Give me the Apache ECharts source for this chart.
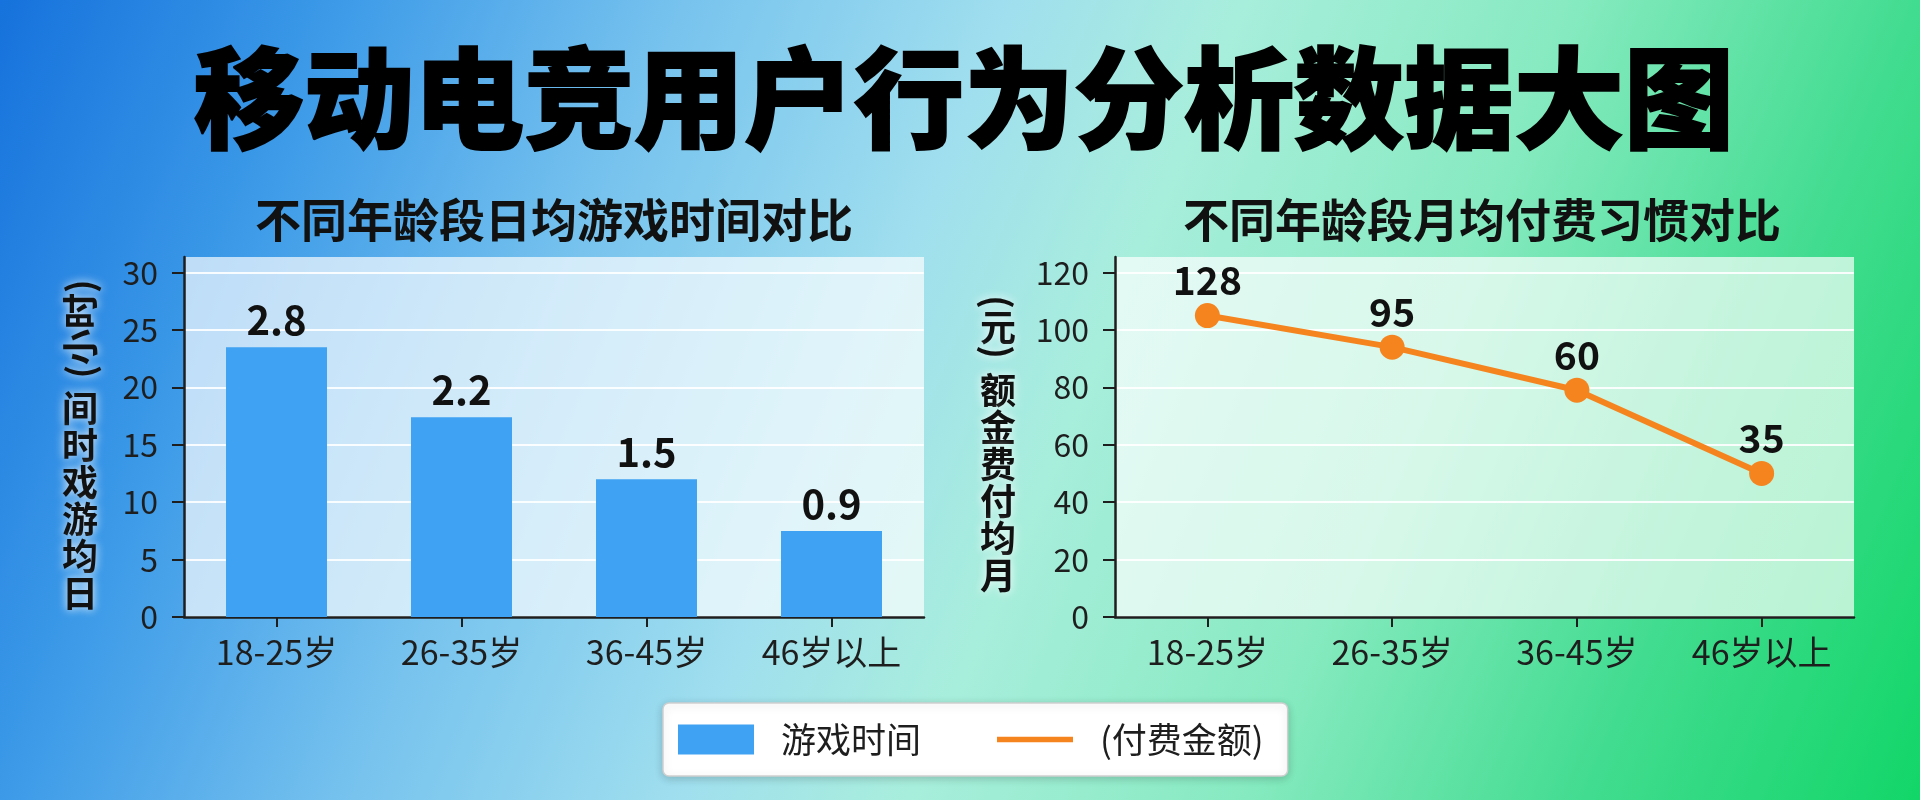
<!DOCTYPE html>
<html>
<head>
<meta charset="utf-8">
<script src="https://cdn.jsdelivr.net/npm/echarts@6/dist/echarts.min.js"></script>
<style>
html,body{margin:0;padding:0;width:1920px;height:800px;overflow:hidden;}
#main{width:1920px;height:800px;}
</style>
</head>
<body>
<div id="main"></div>
<script>
const categories = ['18-25岁', '26-35岁', '36-45岁', '46岁以上'];
const playTime = [23.5, 17.4, 12.0, 7.5];
const playTimeLabels = ['2.8', '2.2', '1.5', '0.9'];
const payAmount = [105, 94, 79, 50];
const payLabels = ['128', '95', '60', '35'];
const timeTicks = [0, 5, 10, 15, 20, 25, 30];
const payTicks = [0, 20, 40, 60, 80, 100, 120];

const FONT = '"Noto Sans CJK SC", "Noto Sans", sans-serif';
const DARK = '#1e1e1e';
const BLUE = '#3fa2f2';
const ORANGE = '#f5841f';

const chart = echarts.init(document.getElementById('main'), null, {renderer: 'canvas'});

function xAxisCfg(gridIndex) {
  return {
    type: 'category', gridIndex: gridIndex, data: categories, boundaryGap: true,
    axisLine: {lineStyle: {color: DARK, width: 2.5}},
    axisTick: {show: true, alignWithLabel: true, length: 10, lineStyle: {color: DARK, width: 2}},
    axisLabel: {fontSize: 34, color: DARK, margin: 18, fontFamily: FONT},
    splitLine: {show: false}
  };
}
function yAxisCfg(gridIndex, max, interval, ticks) {
  return {
    type: 'value', gridIndex: gridIndex, min: 0, max: max, interval: interval,
    axisLine: {show: true, lineStyle: {color: DARK, width: 2.5}},
    axisTick: {show: true, length: 12, customValues: ticks, lineStyle: {color: DARK, width: 2}},
    axisLabel: {fontSize: 32, color: DARK, margin: 26, fontFamily: FONT, customValues: ticks},
    splitLine: {show: true, lineStyle: {color: 'rgba(255,255,255,0.9)', width: 2}}
  };
}

const halo = {textShadowColor: '#ffffff', textShadowBlur: 10};

const option = {
  backgroundColor: new echarts.graphic.LinearGradient(0, 0, 1, 1, [
    {offset: 0, color: '#1672dc'},
    {offset: 0.15, color: '#3c9ae8'},
    {offset: 0.3, color: '#76c2ee'},
    {offset: 0.45, color: '#a0dfee'},
    {offset: 0.55, color: '#a8eedc'},
    {offset: 0.7, color: '#86eac0'},
    {offset: 0.85, color: '#42dc90'},
    {offset: 1, color: '#12d668'}
  ]),
  textStyle: {fontFamily: FONT},
  animation: false,
  grid: [
    {left: 184, right: 996, top: 257, bottom: 183, show: true, backgroundColor: 'rgba(255,255,255,0.68)', borderWidth: 0},
    {left: 1115, right: 66, top: 257, bottom: 183, show: true, backgroundColor: 'rgba(255,255,255,0.68)', borderWidth: 0}
  ],
  xAxis: [xAxisCfg(0), xAxisCfg(1)],
  yAxis: [
    yAxisCfg(0, 31.35, 5, timeTicks),
    yAxisCfg(1, 125.4, 20, payTicks)
  ],
  legend: {
    left: 663, top: 703,
    padding: [19, 24, 19, 15],
    itemWidth: 76, itemHeight: 30, itemGap: 76,
    backgroundColor: '#ffffff',
    borderColor: '#cfcfcf', borderWidth: 1.5, borderRadius: 6,
    shadowColor: 'rgba(0,0,0,0.18)', shadowBlur: 8, shadowOffsetY: 2,
    textStyle: {fontSize: 35, color: DARK, fontFamily: FONT, padding: [0, 0, 0, 22]},
    data: [
      {name: '游戏时间', icon: 'rect'},
      {name: '(付费金额)', icon: 'path://M0 0H80V6H0Z'}
    ]
  },
  series: [
    {
      name: '游戏时间', type: 'bar', xAxisIndex: 0, yAxisIndex: 0,
      data: playTime, barWidth: 101,
      itemStyle: {color: BLUE},
      label: {
        show: true, position: 'top', distance: 7,
        fontSize: 40, fontWeight: 'bold', color: '#111', fontFamily: FONT,
        formatter: p => playTimeLabels[p.dataIndex]
      }
    },
    {
      name: '(付费金额)', type: 'line', xAxisIndex: 1, yAxisIndex: 1,
      data: payAmount, symbol: 'circle', symbolSize: 25,
      lineStyle: {color: ORANGE, width: 6},
      itemStyle: {color: ORANGE},
      label: {
        show: true, position: 'top', distance: 3,
        fontSize: 39, fontWeight: 'bold', color: '#111', fontFamily: FONT,
        formatter: p => payLabels[p.dataIndex]
      }
    }
  ],
  graphic: [
    {type: 'text', x: 964, y: 98, style: {text: '移动电竞用户行为分析数据大图', fill: '#000', font: '900 110px ' + FONT, align: 'center', verticalAlign: 'middle', stroke: '#000', lineWidth: 2}},
    {type: 'text', x: 554, y: 220, style: {text: '不同年龄段日均游戏时间对比', fill: '#111', font: 'bold 46px ' + FONT, align: 'center', verticalAlign: 'middle'}},
    {type: 'text', x: 1482, y: 220, style: {text: '不同年龄段月均付费习惯对比', fill: '#111', font: 'bold 46px ' + FONT, align: 'center', verticalAlign: 'middle'}},
    // left axis name
    {type: 'text', x: 80, y: 501, style: Object.assign({text: '间\n时\n戏\n游\n均\n日', fill: '#111', font: 'bold 36px ' + FONT, lineHeight: 37, align: 'center', verticalAlign: 'middle'}, halo)},
    {type: 'text', x: 80, y: 329, rotation: Math.PI / 2, style: Object.assign({text: '(小时)', fill: '#111', font: 'bold 36px ' + FONT, align: 'center', verticalAlign: 'middle'}, halo)},
    // right axis name
    {type: 'text', x: 998, y: 483, style: Object.assign({text: '额\n金\n费\n付\n均\n月', fill: '#111', font: 'bold 36px ' + FONT, lineHeight: 37, align: 'center', verticalAlign: 'middle'}, halo)},
    {type: 'text', x: 998, y: 327, style: Object.assign({text: '元', fill: '#111', font: 'bold 36px ' + FONT, align: 'center', verticalAlign: 'middle'}, halo)},
    {type: 'text', x: 998, y: 302, rotation: -Math.PI / 2, style: Object.assign({text: '(', fill: '#111', font: 'bold 36px ' + FONT, align: 'center', verticalAlign: 'middle'}, halo)},
    {type: 'text', x: 998, y: 352, rotation: -Math.PI / 2, style: Object.assign({text: ')', fill: '#111', font: 'bold 36px ' + FONT, align: 'center', verticalAlign: 'middle'}, halo)}
  ]
};
chart.setOption(option);
</script>
</body>
</html>
